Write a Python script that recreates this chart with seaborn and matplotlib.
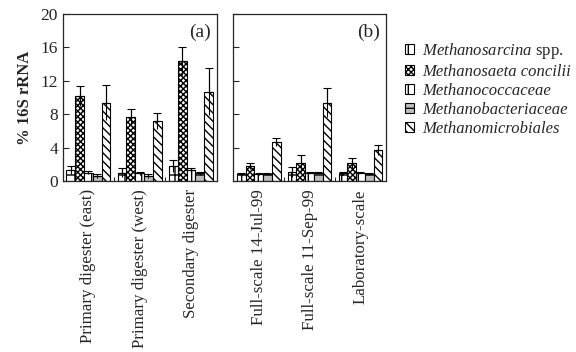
import matplotlib
matplotlib.use('Agg')
import matplotlib.pyplot as plt
import pandas as pd
import seaborn as sns

taxa = ['Methanosarcina spp.', 'Methanosaeta concilii', 'Methanococcaceae',
        'Methanobacteriaceae', 'Methanomicrobiales']
sites_a = ['Primary digester (east)', 'Primary digester (west)', 'Secondary digester']
sites_b = ['Full-scale 14-Jul-99', 'Full-scale 11-Sep-99', 'Laboratory-scale']

# values per taxon, one entry per site
vals_a = [[1.3, 1.0, 1.8],
          [10.2, 7.7, 14.4],
          [1.0, 0.9, 1.3],
          [0.6, 0.6, 0.9],
          [9.4, 7.2, 10.7]]
err_a = [[0.5, 0.5, 0.7],
         [1.2, 0.9, 1.7],
         [0.2, 0.2, 0.3],
         [0.2, 0.2, 0.2],
         [2.1, 1.0, 2.8]]
vals_b = [[0.8, 1.1, 0.9],
          [1.8, 2.1, 2.1],
          [0.8, 1.0, 1.0],
          [0.8, 1.0, 0.8],
          [4.7, 9.4, 3.7]]
err_b = [[0.2, 0.6, 0.2],
         [0.4, 1.0, 0.7],
         [0.1, 0.1, 0.1],
         [0.1, 0.1, 0.1],
         [0.5, 1.7, 0.6]]

fills = ['white', 'white', 'white', '#bdbdbd', 'white']
hatches = ['+', 'xxxxxx', '|', '-', '\\\\\\\\']


def long_df(sites, vals):
    rows = []
    for t, row in zip(taxa, vals):
        for s, v in zip(sites, row):
            rows.append({'site': s, 'taxon': t, 'value': v})
    return pd.DataFrame(rows)


sns.set_style('ticks')
plt.rcParams['font.family'] = ['Liberation Serif', 'DejaVu Serif']
plt.rcParams['mathtext.fontset'] = 'custom'
plt.rcParams['mathtext.it'] = 'Liberation Serif:italic'
plt.rcParams['mathtext.rm'] = 'Liberation Serif'
plt.rcParams['hatch.linewidth'] = 1.0

fig = plt.figure(figsize=(5.76, 3.52), dpi=100)
ax1 = fig.add_axes([0.109, 0.486, 0.267, 0.474])
ax2 = fig.add_axes([0.405, 0.486, 0.265, 0.474])

for ax, sites, vals, errs, tag in [(ax1, sites_a, vals_a, err_a, '(a)'),
                                   (ax2, sites_b, vals_b, err_b, '(b)')]:
    df = long_df(sites, vals)
    sns.barplot(data=df, x='site', y='value', hue='taxon', hue_order=taxa,
                order=sites, width=0.86, gap=0, legend=False, ax=ax,
                edgecolor='black', linewidth=0.8)
    bar_conts = list(ax.containers)
    for i, cont in enumerate(bar_conts):
        xs = []
        for bar in cont:
            bar.set_facecolor(fills[i])
            bar.set_hatch(hatches[i])
            bar.set_edgecolor('black')
            xs.append(bar.get_x() + bar.get_width() / 2)
        ax.errorbar(xs, vals[i], yerr=errs[i], fmt='none', ecolor='black',
                    elinewidth=0.8, capsize=0)
        ax.errorbar(xs, vals[i], yerr=[[0] * len(xs), errs[i]], fmt='none',
                    ecolor='black', elinewidth=0.8, capsize=3, capthick=0.8)
    if ax is ax2:
        legend_handles = bar_conts
    ax.set_ylim(0, 20)
    ax.set_xlim(-0.5, 2.5)
    ax.set_yticks([0, 4, 8, 12, 16, 20])
    ax.set_xticks([0, 1, 2])
    ax.set_xticklabels(sites, rotation=90, fontsize=12.2)
    ax.set_xticks([0.5, 1.5], minor=True)
    ax.tick_params(axis='x', which='major', length=0, pad=6)
    ax.tick_params(axis='x', which='minor', direction='in', length=3, width=0.8)
    ax.tick_params(axis='y', direction='in', length=4, width=0.8, labelsize=12.5)
    ax.set_xlabel('')
    ax.set_ylabel('')
    for sp in ax.spines.values():
        sp.set_visible(True)
        sp.set_linewidth(0.9)
    ax.text(0.96, 0.94, tag, transform=ax.transAxes, ha='right', va='top',
            fontsize=14)

ax1.set_ylabel('% 16S rRNA', fontsize=12, fontweight='bold', labelpad=5)
ax2.tick_params(axis='y', labelleft=False)

leg = ax2.legend(legend_handles, taxa, loc='upper left',
                 bbox_to_anchor=(0.692, 0.902), bbox_transform=fig.transFigure,
                 frameon=False, fontsize=12.0, handlelength=0.55,
                 handleheight=0.55, handletextpad=0.45, labelspacing=0.18,
                 borderaxespad=0)
for i, txt in enumerate(leg.get_texts()):
    if i == 0:
        txt.set_text(r'$\mathit{Methanosarcina}$ spp.')
    else:
        txt.set_fontstyle('italic')

fig.savefig('out.png', dpi=100)
